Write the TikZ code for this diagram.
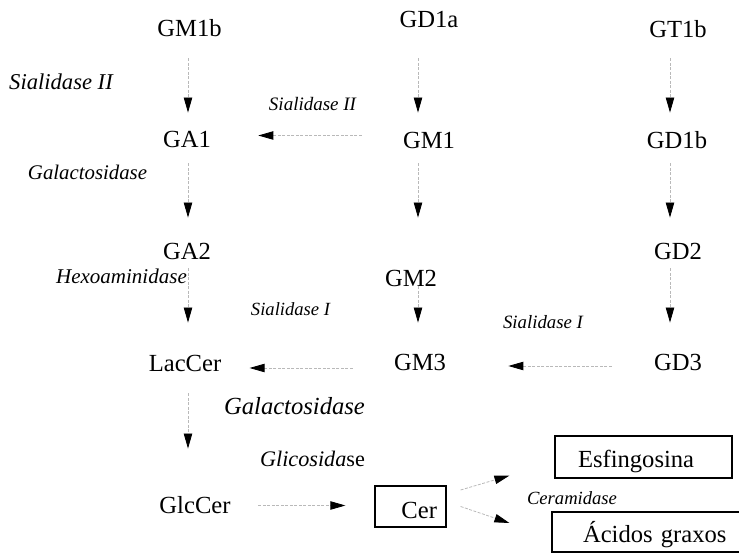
\documentclass[tikz,border=0pt]{standalone}
\usepackage{fontspec}
\setmainfont{Liberation Serif}
\usetikzlibrary{arrows.meta, positioning}

\tikzset{
  gl/.style={inner sep=0pt, text height=8pt, text depth=0pt, font=\fontsize{12.3}{14}\selectfont},
  enz/.style={inner sep=0pt, font=\fontsize{#1}{#1}\selectfont\itshape},
  caixa/.style={draw, line width=0.6pt, inner ysep=0pt, text depth=0pt, font=\fontsize{12.3}{14}\selectfont},
  seta/.style={gray!55, line width=0.4pt, dash pattern=on 1.5pt off 0.75pt,
    -{Triangle[length=7.5pt,width=4.2pt,color=black]}},
}

\begin{document}
\begin{tikzpicture}[x=0.5pt, y=-0.5pt]
        \useasboundingbox (0,0) rectangle (739,555);
        % Colunas das setas
        \coordinate (colA) at (188,0);
        \coordinate (colB) at (418,0);
        \coordinate (colC) at (670,0);
        % Gangliosidos
        \node[gl] (GM1b) at (189.5,28.5) {GM1b};
        \node[gl] (GD1a) at (429,20) {GD1a};
        \node[gl] (GT1b) at (678,29.5) {GT1b};
        \node[gl] (GA1) at (187,140) {GA1};
        \node[gl] (GM1) at (429,140.5) {GM1};
        \node[gl] (GD1b) at (677,140.5) {GD1b};
        \node[gl] (GA2) at (187,251.5) {GA2};
        \node[gl] (GM2) at (411,279) {GM2};
        \node[gl] (GD2) at (678,251.5) {GD2};
        \node[gl] (LacCer) at (185,364) {LacCer};
        \node[gl] (GM3) at (420,363) {GM3};
        \node[gl] (GD3) at (678,363) {GD3};
        \node[gl] (GlcCer) at (195,505.5) {GlcCer};
        % Caixas
        \node[caixa, text height=11.5pt, inner xsep=4.5pt, text width=26.5pt, align=right, minimum height=20.5pt] (Cer) at (410.5,506.5) {Cer};
        \node[caixa, text height=10.5pt, inner xsep=11.5pt, text width=65.5pt, align=left, minimum height=21pt] (Esf) at (643.5,457) {Esfingosina};
        \node[caixa, text height=10pt, inner xsep=15.5pt, text width=72pt, align=left, minimum height=20pt] (Acid) at (655,532) {Ácidos graxos};
        % Enzimas
        \node[enz=11.3] (sialA) at (61,81.5) {Sialidase II};
        \node[enz=9.5] (sialB) at (312.5,104.5) {Sialidase II};
        \node[enz=10.4] (galA) at (87.5,172) {Galactosidase};
        \node[enz=10.5] (hexo) at (121.5,276.5) {Hexoaminidase};
        \node[enz=9.3] (sialC) at (290.5,309) {Sialidase I};
        \node[enz=9.4] (sialD) at (543,322) {Sialidase I};
        \node[enz=12.3] (galB) at (294.5,406.5) {Galactosidase};
        \node[enz=11.1] (glic) at (312.5,458.5) {Glicosida\upshape se};
        \node[enz=9.3] (cerase) at (572,498.5) {Ceramidase};
        % Setas verticais
        \draw[seta, shorten <=10.75pt, shorten >=9.5pt] (GM1b.south -| colA) -- (GA1.north -| colA);
        \draw[seta, shorten <=15pt, shorten >=9.75pt] (GD1a.south -| colB) -- (GM1.north -| colB);
        \draw[seta, shorten <=10.25pt, shorten >=9.75pt] (GT1b.south -| colC) -- (GD1b.north -| colC);
        \draw[seta, shorten <=7.5pt, shorten >=12.75pt] (GA1.south -| colA) -- (GA2.north -| colA);
        \draw[seta, shorten <=7.25pt, shorten >=26.5pt] (GM1.south -| colB) -- (GM2.north -| colB);
        \draw[seta, shorten <=7.25pt, shorten >=12.75pt] (GD1b.south -| colC) -- (GD2.north -| colC);
        \draw[seta, shorten <=4.25pt, shorten >=16.5pt] (GA2.south -| colA) -- (LacCer.north -| colA);
        \draw[seta, shorten <=-0.5pt, shorten >=16pt] (GM2.south -| colB) -- (GM3.north -| colB);
        \draw[seta, shorten <=4.25pt, shorten >=16pt] (GD2.south -| colC) -- (GD3.north -| colC);
        \draw[seta, shorten <=10.5pt, shorten >=24.25pt] (LacCer.south -| colA) -- (GlcCer.north -| colA);
        % Setas horizontais
        \draw[seta, shorten <=20.5pt, shorten >=23.5pt] ([yshift=2.5pt]GM1.west) -- ([yshift=2.5pt]GM1.west -| GA1.east);
        \draw[seta, shorten <=20.5pt, shorten >=14pt] ([yshift=-2.5pt]GM3.west) -- ([yshift=-2.5pt]GM3.west -| LacCer.east);
        \draw[seta, shorten <=21pt, shorten >=31pt] ([yshift=-1.5pt]GD3.west) -- ([yshift=-1.5pt]GD3.west -| GM3.east);
        \draw[seta, shorten <=13.75pt, shorten >=14.5pt] (GlcCer.east) -- (GlcCer.east -| Cer.west);
        % Ceramidase
        \draw[seta] ([shift={(7pt,8.25pt)}]Cer.east) -- ([shift={(-22.5pt,1.5pt)}]Esf.south west);
        \draw[seta] ([shift={(7pt,0pt)}]Cer.east) -- ([shift={(-21pt,4.5pt)}]Acid.west);
\end{tikzpicture}
\end{document}
